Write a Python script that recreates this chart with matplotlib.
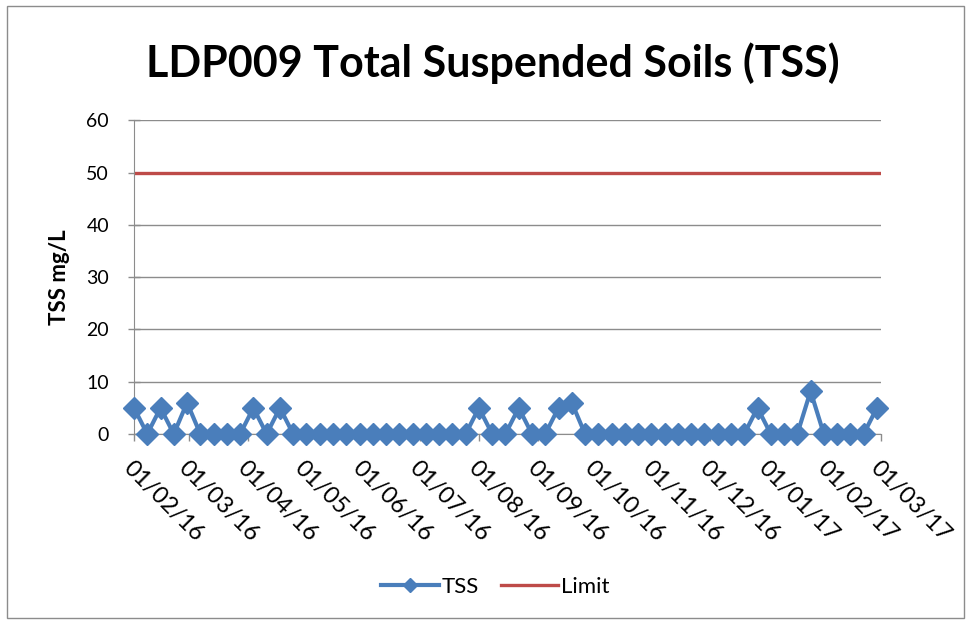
import pandas as pd
import matplotlib
matplotlib.use("Agg")
import matplotlib.pyplot as plt
import matplotlib.dates as mdates
from matplotlib.patches import Rectangle

# weekly samples, Monday 01/02/16 through 27/02/17
start_date = "2016-02-01"
n_weeks = 57
tss_values = [5, 0, 5, 0, 6, 0, 0, 0, 0, 5,
              0, 5, 0, 0, 0, 0, 0, 0, 0, 0,
              0, 0, 0, 0, 0, 0, 5, 0, 0, 5,
              0, 0, 5, 6, 0, 0, 0, 0, 0, 0,
              0, 0, 0, 0, 0, 0, 0, 5, 0, 0,
              0, 8.2, 0, 0, 0, 0, 5]
limit_value = 50
x_start = "2016-02-01"
x_end = "2017-03-01"
y_ticks = [0, 10, 20, 30, 40, 50, 60]

title = "LDP009 Total Suspended Soils (TSS)"
y_label = "TSS mg/L"

dates = pd.date_range(start_date, periods=n_weeks, freq="7D")
blue = "#4A7EBB"
red = "#BE4B48"

plt.rcParams["font.family"] = ["Lato", "DejaVu Sans"]

fig = plt.figure(figsize=(9.71, 6.2), dpi=100)
ax = fig.add_axes([0.138, 0.300, 0.769, 0.506])

# chart border
fig.patches.append(Rectangle((0.007, 0.003), 0.986, 0.988, transform=fig.transFigure,
                             fill=False, edgecolor="#8c8c8c", linewidth=1))

limit_x = pd.to_datetime([x_start, x_end])
ax.plot(limit_x, [limit_value, limit_value], color=red, linewidth=2.4, label="Limit", zorder=2)
ax.plot(dates, tss_values, color=blue, linewidth=3, marker="D", markersize=11.5,
        label="TSS", zorder=3, clip_on=False)

ax.set_xlim(pd.Timestamp(x_start), pd.Timestamp(x_end))
ax.set_ylim(0, 60)
ax.set_yticks(y_ticks)
ax.yaxis.grid(True, color="#8c8c8c", linewidth=1)
ax.set_axisbelow(True)

ax.xaxis.set_major_locator(mdates.MonthLocator())
ax.xaxis.set_major_formatter(mdates.DateFormatter("%d/%m/%y"))
ax.tick_params(axis="both", colors="#8c8c8c", labelcolor="black",
               length=5, width=1, direction="out")
ax.tick_params(axis="x", pad=12, labelsize=17)
ax.tick_params(axis="y", direction="inout", length=8, pad=14, labelsize=14)
for lbl in ax.get_xticklabels():
    lbl.set_rotation(-45)
    lbl.set_ha("left")
    lbl.set_va("top")
    lbl.set_rotation_mode("anchor")

for side in ["top", "right"]:
    ax.spines[side].set_visible(False)
for side in ["left", "bottom"]:
    ax.spines[side].set_color("#8c8c8c")

ax.set_ylabel(y_label, fontsize=16, fontweight="bold", labelpad=12)
fig.text(0.508, 0.898, title, fontsize=31, fontweight="bold", ha="center", va="center")

handles, labels = ax.get_legend_handles_labels()
fig.legend(handles[::-1], labels[::-1], loc="center", bbox_to_anchor=(0.51, 0.053),
           ncol=2, frameon=False, fontsize=16, handlelength=2.6, columnspacing=1.0,
           handletextpad=0.1, markerscale=0.6)

fig.savefig("out.png", dpi=100)
